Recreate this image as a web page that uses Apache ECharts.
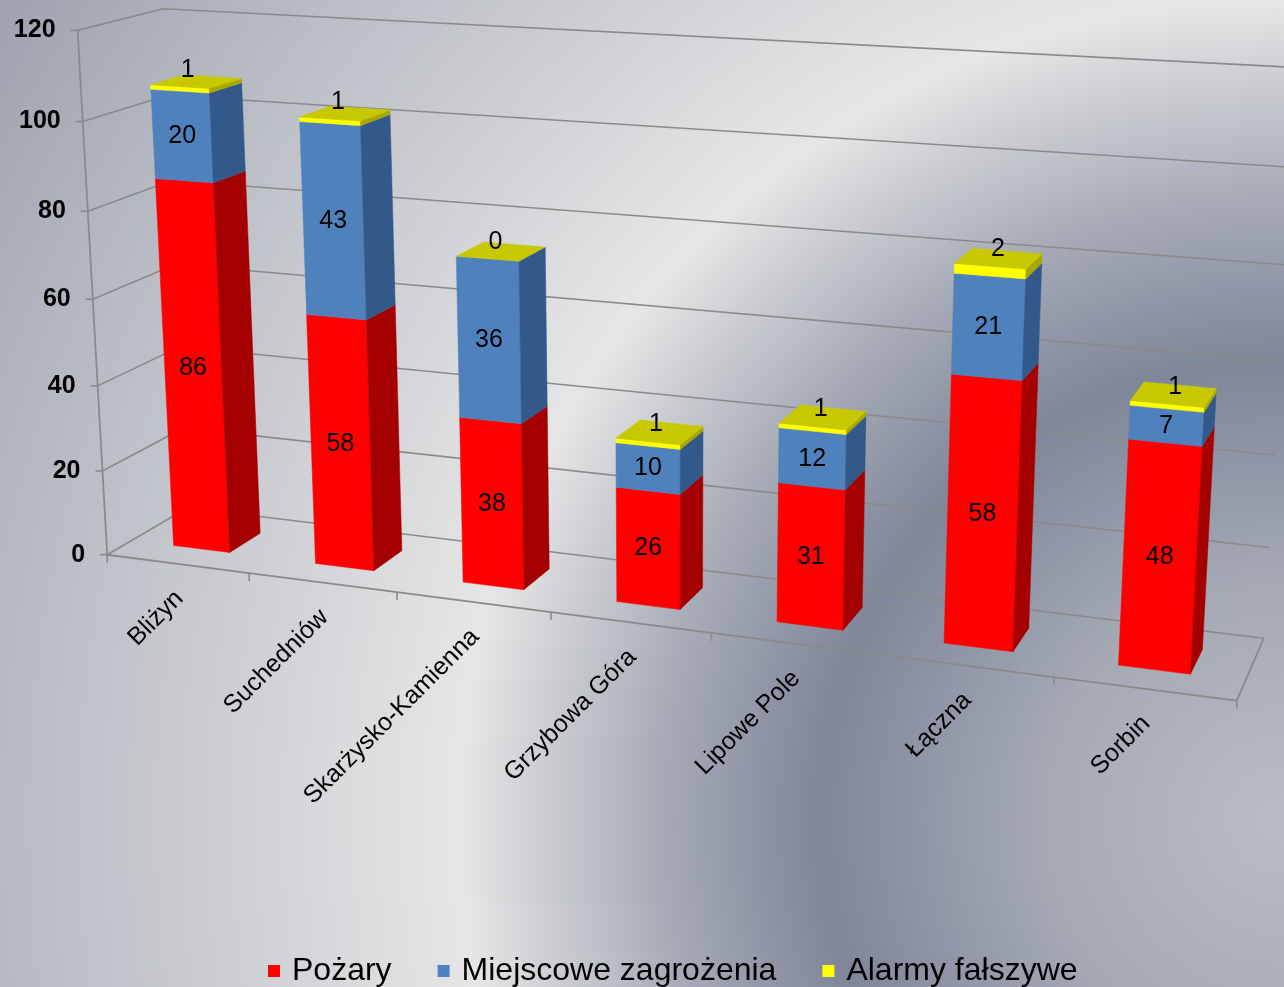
<!DOCTYPE html>
<html>
<head>
<meta charset="utf-8">
<script src="https://cdn.jsdelivr.net/npm/echarts@6/dist/echarts.min.js"></script>
<style>
html,body{margin:0;padding:0;width:1284px;height:987px;overflow:hidden;}
#chart{width:1284px;height:987px;
background: radial-gradient(circle at 1280px 820px, #b9bcc4 0px, #a4a9b4 240px, #7f8699 460px, #a9adb8 630px, #e6e6e6 820px, #d3d4d8 1000px, #b5b8c1 1300px, #9da2ae 1520px);}
</style>
</head>
<body>
<div id="chart"></div>
<script>
// ---------------- data ----------------
const categories = ['Bliżyn', 'Suchedniów', 'Skarżysko-Kamienna', 'Grzybowa Góra', 'Lipowe Pole', 'Łączna', 'Sorbin'];
const pozary     = [86, 58, 38, 26, 31, 58, 48];
const miejscowe  = [20, 43, 36, 10, 12, 21, 7];
const alarmy     = [1, 1, 0, 1, 1, 2, 1];
const seriesNames = ['Pożary', 'Miejscowe zagrożenia', 'Alarmy fałszywe'];
const yTicks = [0, 20, 40, 60, 80, 100, 120];

// ---------------- layout / camera ----------------
const Y_MAX = 120;
const GRID_W = 700, GRID_H = 600;           // hidden helper grid (scales only)
const BAR_W = 0.4, Z_FRONT = 0.3, Z_BACK = 0.7;
// anchors of the 3D frame box: [X (category units), value, depth 0..1, screen x, screen y]
const frameAnchors = [
  [0,0,0,108.3,552.7],[1,0,0,250,574.5],[3,0,0,550.7,614],[4,0,0,710.7,635],[7,0,0,1236.7,700],
  [0,20,0,102.7,469.3],[0,40,0,98.3,385],[0,80,0,87.3,210.7],[0,100,0,81.7,121.7],[0,120,0,77.3,30.7],
  [7,0,1,1263.3,636.7],[7,20,1,1270,546.7],[7,40,1,1275,455],[7,60,1,1280,361.7],
  [0,120,1,164.3,9],[0,0,1,186,509]
];
function solveP(anchors){
  const rows=[], rhs=[];
  anchors.forEach(a=>{
    const X=a[0], Y=a[1]/20, Z=a[2], x=a[3]/1000, y=a[4]/1000;
    rows.push([X,Y,Z,1,0,0,0,0,-x*X,-x*Y,-x*Z]); rhs.push(x);
    rows.push([0,0,0,0,X,Y,Z,1,-y*X,-y*Y,-y*Z]); rhs.push(y);
  });
  const n=11, M=[];
  for(let r=0;r<n;r++){
    const row=new Array(n+1).fill(0);
    for(let c=0;c<n;c++){let s=0;for(let k=0;k<rows.length;k++)s+=rows[k][r]*rows[k][c];row[c]=s;}
    let s=0;for(let k=0;k<rows.length;k++)s+=rows[k][r]*rhs[k];row[n]=s;
    M.push(row);
  }
  for(let c=0;c<n;c++){
    let p=c;for(let r=c+1;r<n;r++)if(Math.abs(M[r][c])>Math.abs(M[p][c]))p=r;
    const t=M[c];M[c]=M[p];M[p]=t;
    for(let r=0;r<n;r++){if(r===c)continue;const f=M[r][c]/M[c][c];for(let k=c;k<=n;k++)M[r][k]-=f*M[c][k];}
  }
  return M.map((row,i)=>row[n]/row[i]);
}
const P = solveP(frameAnchors);
function proj(X, V, Z){
  const Y=V/20;
  const w=P[8]*X+P[9]*Y+P[10]*Z+1;
  return [1000*(P[0]*X+P[1]*Y+P[2]*Z+P[3])/w, 1000*(P[4]*X+P[5]*Y+P[6]*Z+P[7])/w];
}
// helper: pixel of hidden grid -> value units
function toVal(py){ return (GRID_H - py) / GRID_H * Y_MAX; }

const FONT = '"Liberation Sans", Arial, sans-serif';
const GRID_COLOR = '#8a8a8a';
const faceColors = [
  {front:'#FF0000', side:'#A50000', top:'#CC0000'},
  {front:'#4F81BD', side:'#33588A', top:'#3F6899'},
  {front:'#FFFF00', side:'#A8A800', top:'#C8C800'}
];

// stacked data [categoryIndex, base, top, value]
const stacks = [pozary, miejscowe, alarmy];
const stackData = stacks.map((arr, s) => arr.map((v, i) => {
  let base = 0; for (let k = 0; k < s; k++) base += stacks[k][i];
  return [i, base, base + v, v];
}));

function poly(pts, fill){ return {type:'polygon', shape:{points:pts}, style:{fill:fill, stroke:fill, lineWidth:0.5}}; }

function barRenderer(s){
  return function(params, api){
    const i=api.value(0), b=api.value(1), t=api.value(2), v=api.value(3);
    const pb=api.coord([i,b]), pt=api.coord([i,t]);
    const cw=api.size([1,0])[0];
    const Xc=pb[0]/cw, Y0=toVal(pb[1]), Y1=toVal(pt[1]);
    const Xa=Xc-BAR_W/2, Xb=Xc+BAR_W/2;
    const c=faceColors[s];
    const children=[];
    if (Y1>Y0){
      children.push(poly([proj(Xa,Y0,Z_FRONT),proj(Xb,Y0,Z_FRONT),proj(Xb,Y1,Z_FRONT),proj(Xa,Y1,Z_FRONT)], c.front));
      children.push(poly([proj(Xb,Y0,Z_FRONT),proj(Xb,Y0,Z_BACK),proj(Xb,Y1,Z_BACK),proj(Xb,Y1,Z_FRONT)], c.side));
    }
    const isTop = (s===stacks.length-1);
    if (isTop){
      children.push(poly([proj(Xa,Y1,Z_FRONT),proj(Xb,Y1,Z_FRONT),proj(Xb,Y1,Z_BACK),proj(Xa,Y1,Z_BACK)], c.top));
      const lp=proj(Xc,Y1,Z_FRONT);
      children.push({type:'text', x:lp[0]+8, y:lp[1]-17, z2:10,
        style:{text:String(v), fill:'#000', font:'25px '+FONT, align:'center', verticalAlign:'middle'}});
    } else {
      const lp=proj(Xc,(Y0+Y1)/2,Z_FRONT);
      children.push({type:'text', x:lp[0], y:lp[1], z2:10,
        style:{text:String(v), fill:'#000', font:'25px '+FONT, align:'center', verticalAlign:'middle'}});
    }
    return {type:'group', children:children};
  };
}

function frameRenderer(params, api){
  const v=api.value(1);
  const p=api.coord([0,v]);
  const V=toVal(p[1]);
  const NX=categories.length;
  const a=proj(0,V,0), b=proj(0,V,1), c=proj(NX,V,1);
  return {type:'group', children:[
    {type:'polyline', shape:{points:[a,b,c]}, style:{stroke:GRID_COLOR, lineWidth:1.6, fill:null}},
    {type:'line', shape:{x1:a[0]-7,y1:a[1],x2:a[0],y2:a[1]}, style:{stroke:GRID_COLOR, lineWidth:1.6}},
    {type:'text', x:a[0]-22, y:a[1], style:{text:String(yTicks[params.dataIndex]), fill:'#000',
      font:'bold 25px '+FONT, align:'right', verticalAlign:'middle'}}
  ]};
}

function axisRenderer(params, api){
  const i=api.value(0);
  const p=api.coord([i,0]);
  const cw=api.size([1,0])[0];
  const Xc=p[0]/cw;
  const NX=categories.length;
  const children=[];
  const X0=Xc-0.5, X1=Xc+0.5;
  const a=proj(X0,0,0), b=proj(X1,0,0);
  children.push({type:'line', shape:{x1:a[0],y1:a[1],x2:b[0],y2:b[1]}, style:{stroke:GRID_COLOR, lineWidth:1.8}});
  children.push({type:'line', shape:{x1:b[0],y1:b[1],x2:b[0],y2:b[1]+8}, style:{stroke:GRID_COLOR, lineWidth:1.6}});
  if (i===0){
    const top=proj(0,Y_MAX,0);
    children.push({type:'line', shape:{x1:a[0],y1:a[1],x2:a[0],y2:a[1]+8}, style:{stroke:GRID_COLOR, lineWidth:1.6}});
    children.push({type:'line', shape:{x1:a[0],y1:a[1],x2:top[0],y2:top[1]}, style:{stroke:GRID_COLOR, lineWidth:1.8}});
  }
  if (i===NX-1){
    const c=proj(NX,0,1);
    children.push({type:'line', shape:{x1:b[0],y1:b[1],x2:c[0],y2:c[1]}, style:{stroke:GRID_COLOR, lineWidth:1.8}});
  }
  const lp=proj(Xc,0,0);
  children.push({type:'text', x:lp[0]+2, y:lp[1]+31, rotation:Math.PI/4,
    style:{text:categories[params.dataIndex], fill:'#000', font:'25px '+FONT, align:'right', verticalAlign:'middle'}});
  return {type:'group', children:children};
}

const chart = echarts.init(document.getElementById('chart'), null, {renderer:'canvas'});
const series = [
  {type:'custom', name:'frame', z:1, silent:true, renderItem:frameRenderer,
    data: yTicks.map(v=>[0,v]), encode:{x:0,y:1}},
  {type:'custom', name:'axis', z:1, silent:true, renderItem:axisRenderer,
    data: categories.map((c,i)=>[i,0]), encode:{x:0,y:1}}
];
seriesNames.forEach((nm, s) => {
  series.push({type:'custom', name:nm, z:2, silent:true, renderItem:barRenderer(s),
    itemStyle:{color:faceColors[s].front},
    data: stackData[s], encode:{x:0, y:[1,2]}});
});

chart.setOption({
  animation:false,
  grid:{left:0, top:0, width:GRID_W, height:GRID_H, show:false},
  xAxis:{type:'category', data:categories, show:false},
  yAxis:{type:'value', min:0, max:Y_MAX, interval:20, show:false},
  legend:{data:seriesNames, left:263, top:950, icon:'rect', itemWidth:12, itemHeight:12, itemGap:46,
    textStyle:{fontSize:32, fontFamily:FONT, color:'#000', padding:[0,0,0,7]}},
  series: series
});
</script>
</body>
</html>
